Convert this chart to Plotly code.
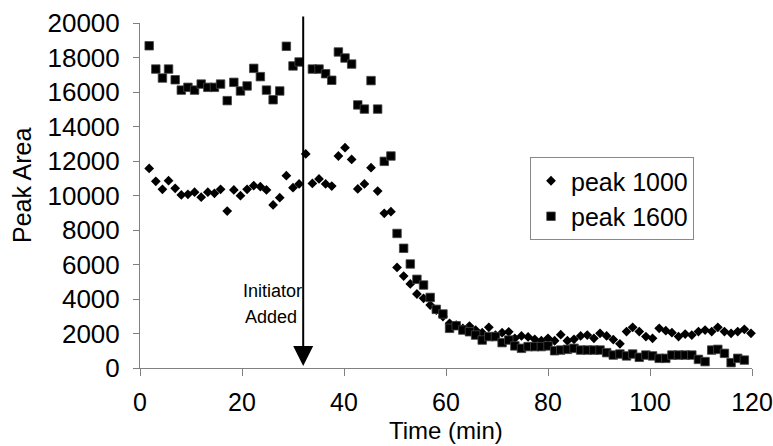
import plotly.graph_objects as go

# Time points (min)
t1000 = [1.8, 3.1, 4.4, 5.6, 6.9, 8.1, 9.4, 10.7, 12.0, 13.3, 14.6, 15.8, 17.1, 18.4, 19.7, 21.0,
         22.3, 23.6, 24.8, 26.1, 27.4, 28.7, 30.0, 31.2, 32.5, 33.8, 35.1, 36.4, 37.6, 38.9, 40.2,
         41.5, 42.7, 44.0, 45.3, 46.6, 47.9, 49.2, 50.4, 51.7, 53.0, 54.3, 55.6, 56.9, 58.1, 59.4,
         60.7, 62.0, 63.3, 64.6, 65.8, 67.1, 68.4, 69.7, 71.0, 72.3, 73.5, 74.8, 76.1, 77.4, 78.7,
         80.0, 81.3, 82.5, 83.8, 85.1, 86.4, 87.7, 89.0, 90.2, 91.5, 92.8, 94.1, 95.4, 96.6, 97.9,
         99.2, 100.5, 101.8, 103.1, 104.3, 105.6, 106.9, 108.2, 109.5, 110.8, 112.1, 113.3, 114.6,
         115.9, 117.2, 118.5, 119.8]
peak1000 = [11570, 10820, 10360, 10860, 10420, 10030, 10070, 10190, 9900, 10190, 10130, 10360, 9100,
            10320, 9990, 10360, 10570, 10510, 10320, 9450, 9870, 11150, 10450, 10670, 12410, 10700,
            10960, 10670, 10550, 12290, 12770, 12090, 10380, 10670, 11610, 10260, 8970, 9060, 5830,
            5330, 4870, 4290, 4040, 3650, 3360, 2980, 2590, 2490, 2300, 2430, 2200, 2050, 2360, 1910,
            2050, 2100, 1720, 1860, 1800, 1660, 1580, 1720, 1580, 1930, 1580, 1660, 1860, 1910, 1720,
            2010, 1860, 1650, 1400, 2110, 2360, 2110, 1820, 1720, 2300, 2160, 2050, 1820, 1970, 1910,
            2110, 2200, 2110, 2360, 2110, 2010, 2110, 2240, 2010]

t1600 = [1.8, 3.1, 4.4, 5.6, 6.9, 8.1, 9.4, 10.7, 12.0, 13.3, 14.6, 15.8, 17.1, 18.4, 19.7, 21.0,
         22.3, 23.6, 24.8, 26.1, 27.4, 28.7, 30.0, 31.2, 33.8, 35.1, 36.4, 37.6, 38.9, 40.2,
         41.5, 42.7, 44.0, 45.3, 46.6, 47.9, 49.2, 50.4, 51.7, 53.0, 54.3, 55.6, 56.9, 58.1, 59.4,
         60.7, 62.0, 63.3, 64.6, 65.8, 67.1, 68.4, 69.7, 71.0, 72.3, 73.5, 74.8, 76.1, 77.4, 78.7,
         80.0, 81.3, 82.5, 83.8, 85.1, 86.4, 87.7, 89.0, 90.2, 91.5, 92.8, 94.1, 95.4, 96.6, 97.9,
         99.2, 100.5, 101.8, 103.1, 104.3, 105.6, 106.9, 108.2, 109.5, 110.8, 112.1, 113.3, 114.6,
         115.9, 117.2, 118.5, 119.8]
peak1600 = [18680, 17330, 16810, 17330, 16710, 16110, 16270, 16110, 16460, 16270, 16270, 16460, 15500,
            16560, 16060, 16350, 17370, 16890, 16110, 15550, 16060, 18650, 17510, 17740, 17330,
            17330, 17060, 16680, 18320, 17970, 17620, 15250, 15010, 16660, 15010, 11980, 12290, 7800,
            6940, 6030, 5140, 4810, 4090, 3400, 3130, 2300, 2450, 2200, 2100, 1910, 1620, 1820, 1820,
            1470, 1620, 1280, 1140, 1240, 1240, 1240, 1280, 1000, 1040, 1080, 1140, 1040, 1040, 1040,
            1040, 890, 750, 810, 700, 810, 620, 750, 700, 560, 560, 750, 750, 750, 750, 500, 370,
            1040, 1080, 850, 310, 560, 460]

x_ticks = [0, 20, 40, 60, 80, 100, 120]
y_ticks = [0, 2000, 4000, 6000, 8000, 10000, 12000, 14000, 16000, 18000, 20000]
initiator_time = 32.0

FONT = "Arial, Liberation Sans, sans-serif"

W, H = 773, 446
L, R, T, B = 140, 21, 23, 78


def px_to_paper_x(px):
    return (px - L) / (W - L - R)


def px_to_paper_y(py):
    return (H - B - py) / (H - T - B)


fig = go.Figure()
fig.add_trace(go.Scatter(
    x=t1000, y=peak1000, mode="markers", name="peak 1000",
    marker=dict(symbol="diamond", size=7.5, color="black", line=dict(width=0)),
    cliponaxis=False,
))
fig.add_trace(go.Scatter(
    x=t1600, y=peak1600, mode="markers", name="peak 1600",
    marker=dict(symbol="square", size=8.5, color="black", line=dict(width=0.8, color="#444")),
    cliponaxis=False,
))

# Arrow marking initiator addition
fig.add_annotation(
    x=initiator_time, y=120, ax=initiator_time, ay=20460,
    xref="x", yref="y", axref="x", ayref="y",
    text="", showarrow=True, arrowhead=2, arrowwidth=2, arrowsize=2,
    arrowcolor="black", standoff=0,
)
fig.add_annotation(x=px_to_paper_x(272), y=px_to_paper_y(291), xref="paper", yref="paper",
                   xanchor="center", yanchor="middle", text="Initiator", showarrow=False,
                   font=dict(size=18, color="black", family=FONT))
fig.add_annotation(x=px_to_paper_x(271), y=px_to_paper_y(317), xref="paper", yref="paper",
                   xanchor="center", yanchor="middle", text="Added", showarrow=False,
                   font=dict(size=18, color="black", family=FONT))

# Axis titles
fig.add_annotation(x=px_to_paper_x(446), y=px_to_paper_y(430), xref="paper", yref="paper",
                   xanchor="center", yanchor="middle", text="Time (min)", showarrow=False,
                   font=dict(size=24, color="black", family=FONT))
fig.add_annotation(x=px_to_paper_x(22), y=px_to_paper_y(186), xref="paper", yref="paper",
                   xanchor="center", yanchor="middle", text="Peak Area", showarrow=False,
                   textangle=-90, font=dict(size=25, color="black", family=FONT))

fig.update_layout(
    width=W, height=H,
    margin=dict(l=L, r=R, t=T, b=B, autoexpand=False),
    paper_bgcolor="white", plot_bgcolor="white",
    font=dict(family=FONT, size=25, color="black"),
    showlegend=True,
    legend=dict(
        x=px_to_paper_x(530), y=px_to_paper_y(157), xanchor="left", yanchor="top",
        bordercolor="#888", borderwidth=1, bgcolor="white",
        font=dict(size=25, family=FONT, color="black"),
        itemwidth=30,
    ),
    xaxis=dict(
        range=[0, 120], tickvals=x_ticks, ticktext=[str(v) for v in x_ticks],
        showgrid=False, zeroline=False, showline=True, linecolor="#808080", linewidth=1,
        ticks="outside", ticklen=7, tickcolor="#808080", tickwidth=1,
        tickfont=dict(size=25, family=FONT, color="black"), ticklabelstandoff=5,
        ticklabeloverflow="allow",
    ),
    yaxis=dict(
        range=[0, 20000], tickvals=y_ticks, ticktext=[str(v) for v in y_ticks],
        showgrid=False, zeroline=False, showline=True, linecolor="#808080", linewidth=1,
        ticks="outside", ticklen=6, tickcolor="#808080", tickwidth=1,
        tickfont=dict(size=26, family=FONT, color="black"), ticklabelstandoff=8,
        ticklabeloverflow="allow",
    ),
)

fig.write_html("out.html")
